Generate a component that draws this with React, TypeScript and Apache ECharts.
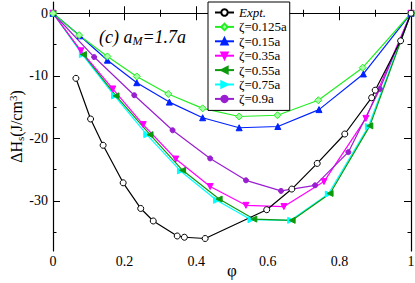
import React, { useEffect, useRef } from "react";
import * as echarts from "echarts";

// ---- data ----
const exptX = [0.064, 0.105, 0.14, 0.196, 0.245, 0.28, 0.347, 0.367, 0.425, 0.597, 0.667, 0.738, 0.815, 0.89, 0.9, 0.971, 1.0];
const exptY = [-10.4, -16.9, -21.1, -27.1, -31.2, -33.2, -35.6, -35.8, -36.0, -31.4, -28.1, -24.0, -19.3, -13.5, -12.3, -4.4, 0];

const z0125X = [0, 0.073, 0.152, 0.234, 0.322, 0.418, 0.52, 0.627, 0.741, 0.865, 1.0];
const z0125Y = [0, -3.5, -6.9, -10.1, -12.9, -15.2, -16.5, -16.3, -13.9, -8.7, 0];

const z015X = [0, 0.075, 0.152, 0.234, 0.325, 0.418, 0.52, 0.628, 0.743, 0.867, 1.0];
const z015Y = [0, -3.6, -7.5, -11.1, -14.2, -16.7, -18.3, -18.1, -15.4, -9.7, 0];

const z035X = [0, 0.078, 0.167, 0.252, 0.343, 0.439, 0.539, 0.645, 0.757, 0.874, 1.0];
const z035Y = [0, -6.0, -12.1, -17.8, -23.3, -27.7, -30.7, -30.9, -26.9, -16.8, 0];

const z055X = [0, 0.085, 0.176, 0.271, 0.362, 0.464, 0.561, 0.668, 0.774, 0.885, 1.0];
const z055Y = [0, -6.6, -13.2, -19.4, -25.1, -29.7, -32.9, -33.1, -28.8, -18.0, 0];

const z075X = [0, 0.082, 0.172, 0.262, 0.356, 0.457, 0.553, 0.664, 0.769, 0.881, 1.0];
const z075Y = [0, -6.6, -13.2, -19.4, -25.2, -29.9, -33.0, -33.1, -28.9, -18.1, 0];

const z09X = [0, 0.115, 0.227, 0.334, 0.439, 0.539, 0.637, 0.732, 0.825, 0.913, 1.0];
const z09Y = [0, -7.0, -13.1, -18.7, -23.2, -26.7, -28.4, -27.5, -22.2, -12.1, 0];

const seriesNames = ["Expt.", "ζ=0.125a", "ζ=0.15a", "ζ=0.35a", "ζ=0.55a", "ζ=0.75a", "ζ=0.9a"];
const yMajorTicks = [-30, -20, -10, 0];
const yMinorTicks = [-35, -25, -15, -5];
const xTickInterval = 0.2;

const zip = (xs: number[], ys: number[]) => xs.map((x, i) => [x, ys[i]]);

const FONT = "'Liberation Serif', 'DejaVu Serif', serif";

export default function App() {
  const ref = useRef<HTMLDivElement>(null);

  useEffect(() => {
    if (!ref.current) return;
    const chart = echarts.init(ref.current, undefined, { renderer: "svg" });

    const mk = (
      name: string,
      xs: number[],
      ys: number[],
      color: string,
      symbol: string,
      size: number,
      rotate = 0,
      fill?: string
    ) => ({
      name,
      type: "line",
      data: zip(xs, ys),
      symbol,
      symbolSize: size,
      symbolRotate: rotate,
      showAllSymbol: true,
      lineStyle: { color, width: 1.2 },
      itemStyle: { color: fill ?? color, borderColor: color, borderWidth: 1 },
      emphasis: { disabled: true },
      xAxisIndex: 0,
      yAxisIndex: 0,
    });

    const axisLine = { show: true, lineStyle: { color: "#000", width: 1.2 } };
    const labelStyle = { fontFamily: FONT, fontSize: 14, color: "#000" };

    chart.setOption({
      animation: false,
      backgroundColor: "#fff",
      grid: { left: 53, right: 4, top: 2, bottom: 32, containLabel: false, outerBoundsMode: "none" },
      title: {
        text: "{a|(c) a}{s|M}{a|=1.7a}",
        left: 94,
        top: 22,
        textStyle: {
          fontWeight: "normal",
          rich: {
            a: { fontFamily: FONT, fontSize: 18, fontStyle: "italic", fontWeight: "normal", color: "#000", lineHeight: 20 },
            s: { fontFamily: FONT, fontSize: 12, fontStyle: "italic", fontWeight: "normal", color: "#000", lineHeight: 12, verticalAlign: "bottom" },
          },
        },
      },
      legend: {
        data: seriesNames,
        orient: "vertical",
        left: 208,
        top: 2,
        itemWidth: 19,
        itemHeight: 8,
        itemGap: 1.4,
        padding: [4, 3, 5, 6],
        borderColor: "#000",
        borderWidth: 1,
        backgroundColor: "#fff",
        formatter: (n: string) => (n === "Expt." ? "{i|Expt.}" : n),
        textStyle: {
          fontFamily: FONT,
          fontSize: 13,
          color: "#000",
          rich: { i: { fontFamily: FONT, fontSize: 13, fontStyle: "italic", color: "#000" } },
        },
      },
      xAxis: [
        {
          type: "value",
          position: "bottom",
          min: 0,
          max: 1,
          interval: xTickInterval,
          name: "φ",
          nameLocation: "middle",
          nameGap: 11,
          nameMoveOverlap: false,
          nameTextStyle: { fontFamily: FONT, fontSize: 17, color: "#000" },
          axisLine,
          axisTick: { show: true, inside: true, length: 7, lineStyle: { color: "#000" } },
          minorTick: { show: true, splitNumber: 2, length: 3.5, lineStyle: { color: "#000" } },
          axisLabel: { ...labelStyle, margin: 3 },
          splitLine: { show: false },
        },
        {
          type: "value",
          position: "top",
          min: 0,
          max: 1,
          interval: xTickInterval,
          axisLine,
          axisTick: { show: true, inside: true, length: 7, lineStyle: { color: "#000" } },
          minorTick: { show: true, splitNumber: 2, length: 3.5, lineStyle: { color: "#000" } },
          axisLabel: { show: false },
          splitLine: { show: false },
        },
      ],
      yAxis: [
        {
          type: "value",
          position: "left",
          min: -38,
          max: 1.8,
          name: "{a|ΔH}{s|s}{a|(J/cm}{p|3}{a|)}",
          nameLocation: "middle",
          nameGap: 28,
          nameMoveOverlap: false,
          nameTextStyle: {
            rich: {
              a: { fontFamily: FONT, fontSize: 16, color: "#000", lineHeight: 18 },
              s: { fontFamily: FONT, fontSize: 11, color: "#000", lineHeight: 11, verticalAlign: "bottom" },
              p: { fontFamily: FONT, fontSize: 11, color: "#000", lineHeight: 11, verticalAlign: "top" },
            },
          },
          axisLine,
          axisTick: { show: true, inside: true, length: 7, customValues: yMajorTicks, lineStyle: { color: "#000" } },
          axisLabel: { ...labelStyle, margin: 5, customValues: yMajorTicks },
          splitLine: { show: false },
        },
        {
          type: "value",
          position: "left",
          min: -38,
          max: 1.8,
          axisLine: { show: false },
          axisTick: { show: true, inside: true, length: 3.5, customValues: yMinorTicks, lineStyle: { color: "#000" } },
          axisLabel: { show: false },
          splitLine: { show: false },
        },
        {
          type: "value",
          position: "right",
          min: -38,
          max: 1.8,
          axisLine,
          axisTick: { show: true, inside: true, length: 7, customValues: yMajorTicks, lineStyle: { color: "#000" } },
          axisLabel: { show: false },
          splitLine: { show: false },
        },
        {
          type: "value",
          position: "right",
          min: -38,
          max: 1.8,
          axisLine: { show: false },
          axisTick: { show: true, inside: true, length: 3.5, customValues: yMinorTicks, lineStyle: { color: "#000" } },
          axisLabel: { show: false },
          splitLine: { show: false },
        },
      ],
      series: [
        mk(seriesNames[5], z075X, z075Y, "#00ffff", "triangle", 6, -90),
        mk(seriesNames[4], z055X, z055Y, "#0d9a0d", "triangle", 6, 90),
        mk(seriesNames[3], z035X, z035Y, "#ff00ff", "triangle", 6, 180),
        mk(seriesNames[6], z09X, z09Y, "#9a1fd0", "circle", 5),
        mk(seriesNames[2], z015X, z015Y, "#0022ff", "triangle", 6),
        mk(seriesNames[1], z0125X, z0125Y, "#22ee22", "diamond", 7, 0, "#a8ffa8"),
        mk(seriesNames[0], exptX, exptY, "#000000", "circle", 6, 0, "#ffffff"),
      ],
    });

    return () => chart.dispose();
  }, []);

  return (
    <div
      ref={ref}
      style={{ position: "fixed", left: 0, top: 0, width: 415, height: 283, background: "#fff" }}
    />
  );
}
